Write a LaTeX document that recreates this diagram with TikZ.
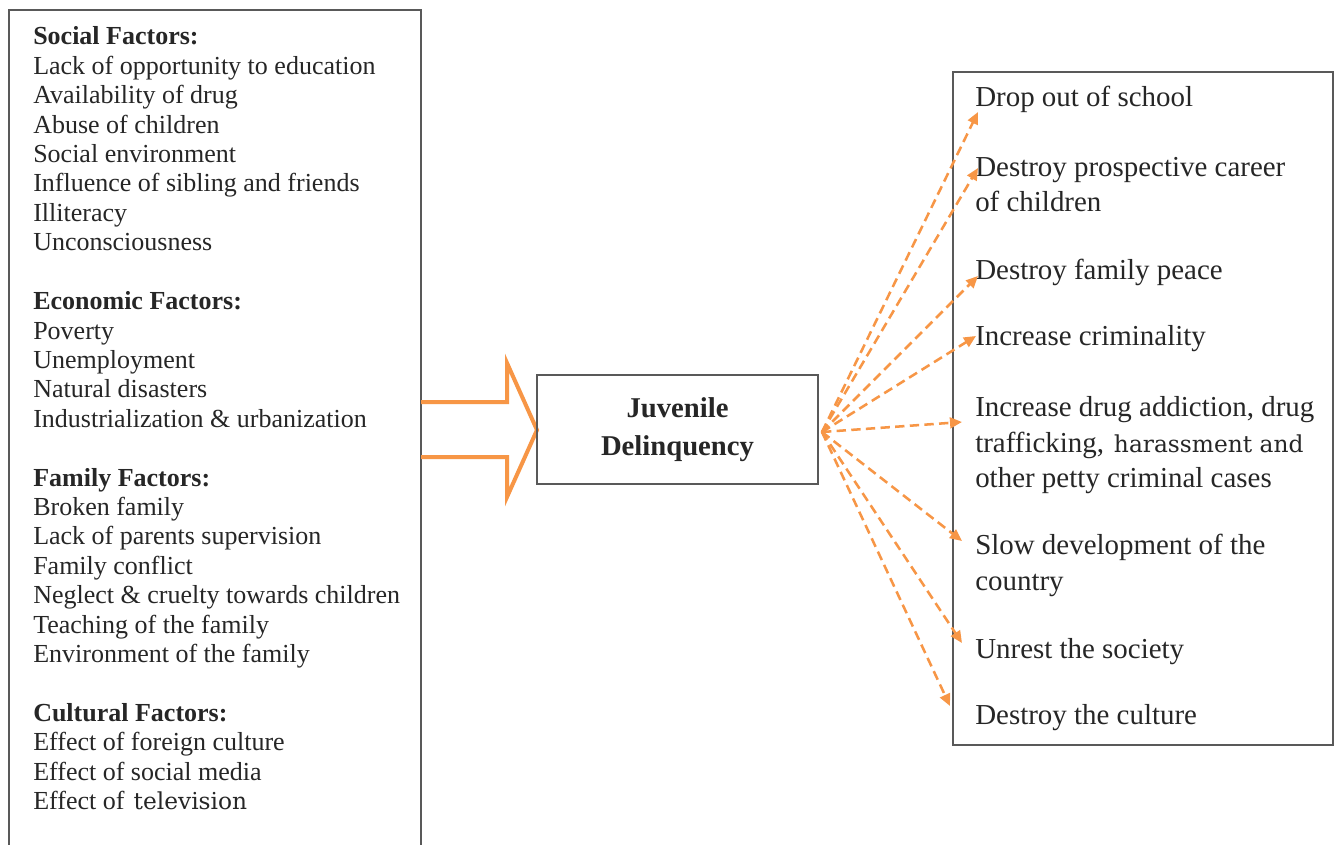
\documentclass[tikz,border=0pt]{standalone}
\usepackage{fontspec}
\setmainfont{Liberation Serif}
\newfontfamily\altserif{DejaVu Serif}
\usetikzlibrary{arrows.meta}
\definecolor{boxgray}{HTML}{595959}
\definecolor{txt}{HTML}{262626}
\definecolor{orng}{HTML}{F79646}
\begin{document}
\begin{tikzpicture}[x=0.75pt,y=-0.75pt,
  frame/.style={draw=boxgray,line width=1.5pt},
  ltext/.style={anchor=base west,inner sep=0pt,text=txt,font=\fontsize{19.5}{22}\selectfont},
  lhead/.style={ltext,font=\fontsize{19.5}{22}\selectfont\bfseries},
  rtext/.style={anchor=base west,inner sep=0pt,text=txt,font=\fontsize{21.7}{26}\selectfont},
  fx/.style={draw=orng,line width=1.9pt,dash pattern=on 7pt off 4pt,
    -{Triangle[length=9pt,width=8pt,sep=0pt]}},
]
\useasboundingbox (0,0) rectangle (1339,845);
\fill[white] (0,0) rectangle (1339,845);

% left box
\draw[frame] (9,870) -- (9,10) -- (421,10) -- (421,870);

% left texts
\node[lhead] (h1) at (33,45) {Social Factors:};
\node[ltext] (a1) at (33,74.4) {Lack of opportunity to education};
\node[ltext] (a2) at (33,103.8) {Availability of drug};
\node[ltext] (a3) at (33,133.2) {Abuse of children};
\node[ltext] (a4) at (33,162.6) {Social environment};
\node[ltext] (a5) at (33,192) {Influence of sibling and friends};
\node[ltext] (a6) at (33,221.4) {Illiteracy};
\node[ltext] (a7) at (33,250.8) {Unconsciousness};

\node[lhead] (h2) at (33,309.6) {Economic Factors:};
\node[ltext] (b1) at (33,339) {Poverty};
\node[ltext] (b2) at (33,368.4) {Unemployment};
\node[ltext] (b3) at (33,397.8) {Natural disasters};
\node[ltext] (b4) at (33,427.2) {Industrialization \& urbanization};

\node[lhead] (h3) at (33,486) {Family Factors:};
\node[ltext] (c1) at (33,515.4) {Broken family};
\node[ltext] (c2) at (33,544.8) {Lack of parents supervision};
\node[ltext] (c3) at (33,574.2) {Family conflict};
\node[ltext] (c4) at (33,603.6) {Neglect \& cruelty towards children};
\node[ltext] (c5) at (33,633) {Teaching of the family};
\node[ltext] (c6) at (33,662.4) {Environment of the family};

\node[lhead] (h4) at (33,721.2) {Cultural Factors:};
\node[ltext] (d1) at (33,750.6) {Effect of foreign culture};
\node[ltext] (d2) at (33,780) {Effect of social media};
\node[ltext] (d3) at (33,809.4) {Effect of \hspace{2pt}{\altserif\fontsize{17.5}{20}\selectfont television}};

% hollow arrow
\draw[draw=orng,line width=3pt,line join=miter]
  (421,402) -- (507,402) -- (507,363) -- (537,430) -- (507,497) -- (507,457) -- (421,457);

% center box
\node[frame,minimum width=210.75pt,minimum height=81.75pt,inner sep=0pt,
  align=center,text=txt,font=\fontsize{21.5}{28.5}\selectfont\bfseries] (jd) at (677.5,429.5)
  {Juvenile\\Delinquency};

% right box
\draw[frame] (953,72) rectangle (1333,745);

\node[rtext] (r1) at (975,107) {Drop out of school};
\node[rtext] (r2) at (975,177) {Destroy prospective career};
\node[rtext] (r2b) at (975,212) {of children};
\node[rtext] (r3) at (975,279) {Destroy family peace};
\node[rtext] (r4) at (975,345) {Increase criminality};
\node[rtext] (r5) at (975,416) {Increase drug addiction, drug};
\node[rtext] (r5b) at (975,452) {trafficking, \hspace{2pt}{\altserif\fontsize{17.5}{20}\selectfont harassment and}};
\node[rtext] (r5c) at (975,487) {other petty criminal cases};
\node[rtext] (r6) at (975,554) {Slow development of the};
\node[rtext] (r6b) at (975,590) {country};
\node[rtext] (r7) at (975,658) {Unrest the society};
\node[rtext] (r8) at (975,724) {Destroy the culture};

% effect arrows
\coordinate (o) at (822,432);
\coordinate (t1) at (978,112);
\coordinate (t2) at (978,168);
\coordinate (t3) at (978,276);
\coordinate (t4) at (976,336);
\coordinate (t5) at (962,422);
\coordinate (t6) at (962,541);
\coordinate (t7) at (962,643);
\coordinate (t8) at (950,706);
\foreach \t in {t1,t2,t3,t4,t5,t6,t7,t8}
  \draw[fx] (o) -- (\t);
\end{tikzpicture}
\end{document}
